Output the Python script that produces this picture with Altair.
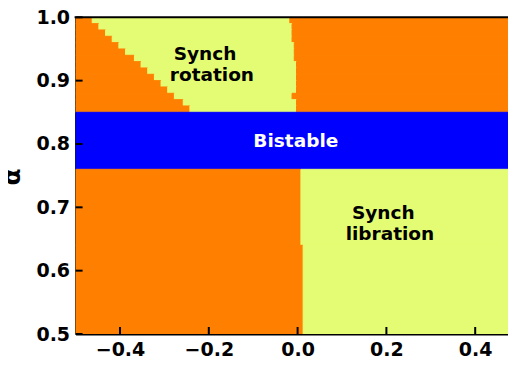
import altair as alt
import pandas as pd

# ---------------- data ----------------
# upper region rows (alpha from 1.00 down to 0.85, 0.01 per row)
row_top = [1.00, 0.99, 0.98, 0.97, 0.96, 0.95, 0.94, 0.93, 0.92, 0.91,
           0.90, 0.89, 0.88, 0.87, 0.86]
row_bottom = [0.99, 0.98, 0.97, 0.96, 0.95, 0.94, 0.93, 0.92, 0.91, 0.90,
              0.89, 0.88, 0.87, 0.86, 0.85]
# left edge of the synchronous-rotation region in each row
rot_left = [-0.4625, -0.4475, -0.4325, -0.4175, -0.4025, -0.3875, -0.3675,
            -0.3525, -0.3375, -0.3225, -0.3075, -0.2925, -0.2775, -0.2575,
            -0.2425]
# right edge of the synchronous-rotation region in each row
rot_right = [-0.0175, -0.0125, -0.0125, -0.0125, -0.0075, -0.0075, -0.0075,
             -0.0025, -0.0025, -0.0025, -0.0025, -0.0025, -0.0125, -0.0025,
             -0.0025]

# bistable band
bist_low, bist_high = 0.76, 0.85
# lower region: boundary between non-synch (left) and synch libration (right)
lib_row_top = [0.76, 0.64]
lib_row_bottom = [0.64, 0.50]
lib_left = [0.0075, 0.0125]

eps_min, eps_max = -0.5, 0.5

x_ticks = [-0.4, -0.2, 0.0, 0.2, 0.4]
y_ticks = [0.5, 0.6, 0.7, 0.8, 0.9, 1.0]

label_text = ["Synch", "rotation", "Bistable", "Synch", "libration"]
label_eps = [-0.2085, -0.193, -0.004, 0.193, 0.208]
label_alpha = [0.942, 0.909, 0.805, 0.691, 0.658]
label_color = ["black", "black", "white", "black", "black"]

regimes = ["Non-synch", "Synch rotation", "Bistable", "Synch libration"]
colors = ["#ff8000", "#e4fc74", "#0000ff", "#e4fc74"]

# ---------------- build table ----------------
rects = []
for t, b, l, r in zip(row_top, row_bottom, rot_left, rot_right):
    rects.append(dict(x=eps_min, x2=l, y=b, y2=t, regime="Non-synch"))
    rects.append(dict(x=l, x2=r, y=b, y2=t, regime="Synch rotation"))
    rects.append(dict(x=r, x2=eps_max, y=b, y2=t, regime="Non-synch"))
rects.append(dict(x=eps_min, x2=eps_max, y=bist_low, y2=bist_high, regime="Bistable"))
for t, b, l in zip(lib_row_top, lib_row_bottom, lib_left):
    rects.append(dict(x=eps_min, x2=l, y=b, y2=t, regime="Non-synch"))
    rects.append(dict(x=l, x2=eps_max, y=b, y2=t, regime="Synch libration"))
df = pd.DataFrame(rects)

PX_PER_UNIT = 444.0
W, H = 432.4, 316.7
FONT = "DejaVu Sans"

xscale = alt.Scale(domain=[-0.5, -0.5 + W / PX_PER_UNIT], nice=False, zero=False)
yscale = alt.Scale(domain=[0.5, 1.0], nice=False, zero=False)
cscale = alt.Scale(domain=regimes, range=colors)

xaxis = alt.Axis(values=x_ticks, ticks=False, grid=False, domainColor="black",
                 domainWidth=2, labelFont=FONT, labelFontWeight="bold",
                 labelFontSize=19, labelColor="black", labelPadding=6,
                 labelExpr="replace(format(datum.value, '.1f'), '-', '\u2212')",
                 title="\u03b5\u2082", titleFont=FONT, titleFontWeight="bold",
                 titleFontSize=26, titleColor="black", titleX=221.4, titleY=366,
                 titleBaseline="alphabetic", titleAlign="center")
yaxis = alt.Axis(values=y_ticks, ticks=False, grid=False, domainColor="black",
                 domainWidth=2, labelFont=FONT, labelFontWeight="bold",
                 labelFontSize=19, labelColor="black", labelPadding=6,
                 format=".1f",
                 title="\u03b1", titleFont=FONT, titleFontWeight="bold",
                 titleFontSize=25, titleColor="black", titleX=-56, titleY=159,
                 titleBaseline="alphabetic", titleAngle=-90, titleAlign="center")

base = alt.Chart(df).mark_rect(strokeWidth=1, clip=True).encode(
    x=alt.X("x:Q", scale=xscale, axis=xaxis),
    x2="x2:Q",
    y=alt.Y("y:Q", scale=yscale, axis=yaxis),
    y2="y2:Q",
    color=alt.Color("regime:N", scale=cscale, legend=None),
    stroke=alt.Stroke("regime:N", scale=cscale, legend=None),
)

labels = alt.Chart(pd.DataFrame(dict(t=label_text, e=label_eps, a=label_alpha, c=label_color))).mark_text(
    font=FONT, fontWeight="bold", fontSize=18.5, baseline="middle", align="center"
).encode(
    x=alt.X("e:Q", scale=xscale),
    y=alt.Y("a:Q", scale=yscale),
    text="t:N",
    color=alt.Color("c:N", scale=None),
)

xt = alt.Chart(pd.DataFrame(dict(v=x_ticks))).mark_rule(color="black", strokeWidth=2).encode(
    x=alt.X("v:Q", scale=xscale), y=alt.value(H), y2=alt.value(H - 7))
yt = alt.Chart(pd.DataFrame(dict(v=y_ticks))).mark_rule(color="black", strokeWidth=2).encode(
    y=alt.Y("v:Q", scale=yscale), x=alt.value(0), x2=alt.value(7))
top = alt.Chart(pd.DataFrame(dict(v=[0]))).mark_rule(color="black", strokeWidth=2).encode(
    x=alt.value(-1), x2=alt.value(W), y=alt.value(0))

chart = alt.layer(base, labels, xt, yt, top).properties(
    width=W, height=H,
    autosize=alt.AutoSizeParams(type="none"),
    padding={"left": 67.6, "top": 9.3, "right": 0, "bottom": 58},
).configure_view(strokeWidth=0)

chart.save("out.html", embed_options={"renderer": "svg", "actions": False})
